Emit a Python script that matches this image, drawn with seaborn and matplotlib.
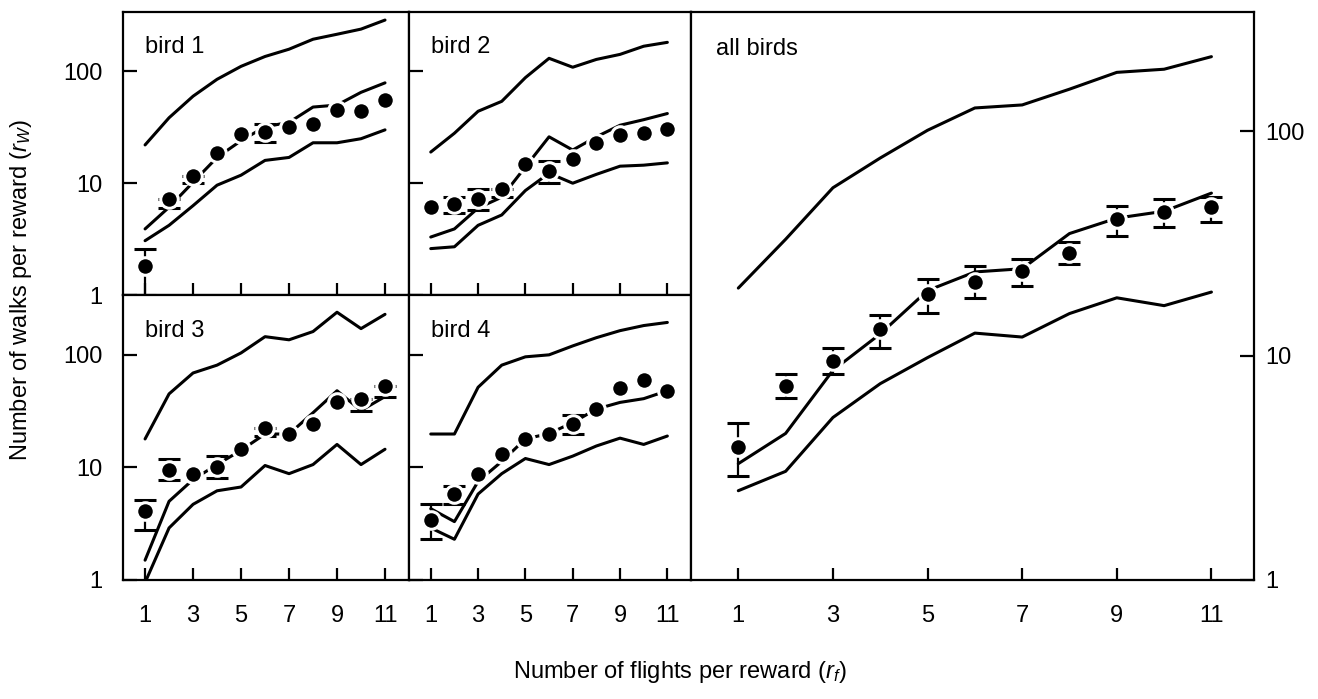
import numpy as np
import pandas as pd
import matplotlib
matplotlib.use("Agg")
import matplotlib.pyplot as plt
from matplotlib.ticker import NullLocator
import seaborn as sns

# flights per reward (x), shared by every panel
flights = [1, 2, 3, 4, 5, 6, 7, 8, 9, 10, 11]

# bird 1
b1_upper = [22, 38.5, 60, 85, 111, 136, 158, 194, 215, 239, 288]
b1_mid = [3.9, 6.1, 10.2, 17, 24, 32, 35, 48, 50, 65, 79]
b1_lower = [3.06, 4.2, 6.3, 9.6, 11.8, 16, 17, 23, 23, 25, 30]
b1_mean = [1.8, 7.2, 11.6, 18.6, 27.5, 29, 32, 34, 45, 44.7, 56]
b1_lo = [1.0, 6.0, 10.0, np.nan, np.nan, 23.5, np.nan, np.nan, np.nan, np.nan, np.nan]
b1_hi = [2.6, 7.2, 11.6, np.nan, np.nan, 34, np.nan, np.nan, np.nan, np.nan, np.nan]

# bird 2
b2_upper = [19, 28, 44, 54, 88, 131, 109, 128, 142, 168, 182]
b2_mid = [3.3, 3.9, 6.0, 7.5, 14, 26, 19.8, 26, 33, 37, 42]
b2_lower = [2.6, 2.7, 4.2, 5.2, 8.6, 12.3, 10, 12, 14.2, 14.5, 15.2]
b2_mean = [6.1, 6.5, 7.2, 8.8, 15, 12.8, 16.4, 23, 27, 28, 30.6]
b2_lo = [np.nan, 5.4, 5.8, 7.5, np.nan, 10, np.nan, np.nan, np.nan, np.nan, np.nan]
b2_hi = [np.nan, 7.5, 8.8, 8.8, np.nan, 15.8, np.nan, np.nan, np.nan, np.nan, np.nan]

# bird 3
b3_upper = [17.9, 45, 69, 81, 104, 145, 136, 161, 239, 171, 229]
b3_mid = [1.5, 5.0, 7.8, 10.6, 14.2, 19.8, 19.8, 30.6, 48, 32, 42.6]
b3_lower = [0.95, 2.9, 4.7, 6.2, 6.7, 10.4, 8.8, 10.6, 16, 10.6, 14.5]
b3_mean = [4.1, 9.4, 8.8, 10, 14.5, 22.4, 19.8, 24.4, 37.8, 40.8, 52.5]
b3_lo = [2.8, 7.7, np.nan, 8, np.nan, 19, np.nan, np.nan, np.nan, 32, 42]
b3_hi = [5.1, 11.8, np.nan, 12.6, np.nan, 22.4, np.nan, np.nan, np.nan, 40.8, 52.5]

# bird 4
b4_upper = [19.8, 19.8, 51.5, 81, 96, 100, 120, 142, 164, 182, 194]
b4_mid = [4.3, 3.3, 7.5, 11.3, 17.9, 20, 25, 33, 37.8, 40.8, 48]
b4_lower = [2.9, 2.3, 5.8, 8.8, 12, 10.6, 12.6, 15.5, 18.2, 16, 19]
b4_mean = [3.4, 5.8, 8.8, 13.1, 17.9, 19.8, 24.4, 32.7, 50.5, 59.6, 47.4]
b4_lo = [2.3, 4.7, np.nan, np.nan, np.nan, np.nan, 19.8, np.nan, np.nan, np.nan, np.nan]
b4_hi = [4.7, 6.9, np.nan, np.nan, np.nan, np.nan, 29.5, np.nan, np.nan, np.nan, np.nan]

# all birds
all_upper = [20, 33, 56, 76, 101, 127, 131, 154, 183, 189, 215]
all_mid = [3.3, 4.5, 8.6, 12.5, 19.5, 23.6, 24.4, 35, 41, 44, 53]
all_lower = [2.5, 3.05, 5.3, 7.5, 9.8, 12.6, 12.1, 15.4, 18.1, 16.7, 19.2]
all_mean = [3.9, 7.3, 9.5, 13.1, 18.9, 21.3, 23.9, 28.7, 40.6, 43.6, 45.9]
all_lo = [2.9, 6.5, 8.3, 10.8, 15.5, 18, 20.5, 25.6, 34, 37.5, 39.4]
all_hi = [5.0, 8.3, 10.8, 15.1, 22, 25, 27, 32, 46.5, 50, 50.9]

y_ticks = [1, 10, 100]
y_ticklabels = ["1", "10", "100"]
x_ticks = [1, 3, 5, 7, 9, 11]

sns.set_style("ticks")
plt.rcParams["font.family"] = ["Liberation Sans", "DejaVu Sans"]
plt.rcParams["mathtext.fontset"] = "custom"
plt.rcParams["mathtext.rm"] = "Liberation Sans"
plt.rcParams["mathtext.it"] = "Liberation Sans:italic"
for key in ("text.color", "axes.labelcolor", "xtick.color", "ytick.color", "axes.edgecolor"):
    plt.rcParams[key] = "black"

FS = 17

fig = plt.figure(figsize=(13.18, 6.99), dpi=100)
W, H = 1318, 699


def add_ax(l, t, r, b):
    return fig.add_axes([l / W, 1 - b / H, (r - l) / W, (b - t) / H])


ax1 = add_ax(123, 12, 409, 295)
ax2 = add_ax(409, 12, 691, 295)
ax3 = add_ax(123, 295, 409, 580)
ax4 = add_ax(409, 295, 691, 580)
ax5 = add_ax(691, 12, 1254, 580)

panels = [
    (ax1, "bird 1", b1_upper, b1_mid, b1_lower, b1_mean, b1_lo, b1_hi),
    (ax2, "bird 2", b2_upper, b2_mid, b2_lower, b2_mean, b2_lo, b2_hi),
    (ax3, "bird 3", b3_upper, b3_mid, b3_lower, b3_mean, b3_lo, b3_hi),
    (ax4, "bird 4", b4_upper, b4_mid, b4_lower, b4_mean, b4_lo, b4_hi),
    (ax5, "all birds", all_upper, all_mid, all_lower, all_mean, all_lo, all_hi),
]

for ax, name, upper, mid, lower, mean, lo, hi in panels:
    for line in (upper, mid, lower):
        sns.lineplot(x=flights, y=line, ax=ax, color="black", lw=2.2, zorder=2)

    # error bars (only where visible in the figure)
    d = pd.DataFrame({"x": flights, "m": mean, "lo": lo, "hi": hi}).dropna()
    ax.errorbar(d["x"], d["m"], yerr=[d["m"] - d["lo"], d["hi"] - d["m"]],
                fmt="none", ecolor="black", elinewidth=1.6, capsize=8,
                capthick=2.2, zorder=3)

    sns.scatterplot(x=flights, y=mean, ax=ax, color="black", s=160,
                    edgecolor="white", linewidth=2.2, zorder=4)

    ax.set_yscale("log")
    ax.set_ylim(1, 340)
    if ax is ax5:
        ax.set_xlim(0.0, 11.9)
    else:
        ax.set_xlim(0.08, 12.0)
    ax.set_yticks(y_ticks)
    ax.set_yticklabels(y_ticklabels)
    ax.yaxis.set_minor_locator(NullLocator())
    ax.set_xticks(x_ticks)
    ax.set_xticklabels([str(v) for v in x_ticks])
    for s in ax.spines.values():
        s.set_visible(True)
        s.set_linewidth(1.6)
        s.set_color("black")
    ax.set_facecolor("white")

    if ax is ax5:
        ax.text(0.044, 0.935, name, transform=ax.transAxes, fontsize=FS,
                va="center", ha="left")
    else:
        ax.text(0.077, 0.875, name, transform=ax.transAxes, fontsize=FS,
                va="center", ha="left")

# tick styling
for ax in (ax1, ax2, ax3, ax4):
    ax.tick_params(axis="y", which="major", direction="in", length=10, width=1.6,
                   left=True, right=False, labelsize=FS, pad=15)
    ax.tick_params(axis="x", which="major", direction="in", length=9, width=1.6,
                   bottom=True, top=False, labelsize=FS, pad=18)

for ax in (ax2, ax4):
    ax.tick_params(axis="y", labelleft=False)
for ax in (ax1, ax2):
    ax.tick_params(axis="x", labelbottom=False)

ax5.tick_params(axis="y", which="major", direction="in", length=10, width=1.6,
                left=False, right=True, labelleft=False, labelright=True,
                labelsize=FS, pad=8)
ax5.tick_params(axis="x", which="major", direction="in", length=9, width=1.6,
                bottom=True, top=False, labelsize=FS, pad=18)

fig.text(0.016, 0.585, "Number of walks per reward ($r_W$)", rotation=90,
         ha="center", va="center", fontsize=FS)
fig.text(0.516, 0.039, "Number of flights per reward ($r_f$)",
         ha="center", va="center", fontsize=FS)

fig.savefig("out.png", dpi=100, facecolor="white")
